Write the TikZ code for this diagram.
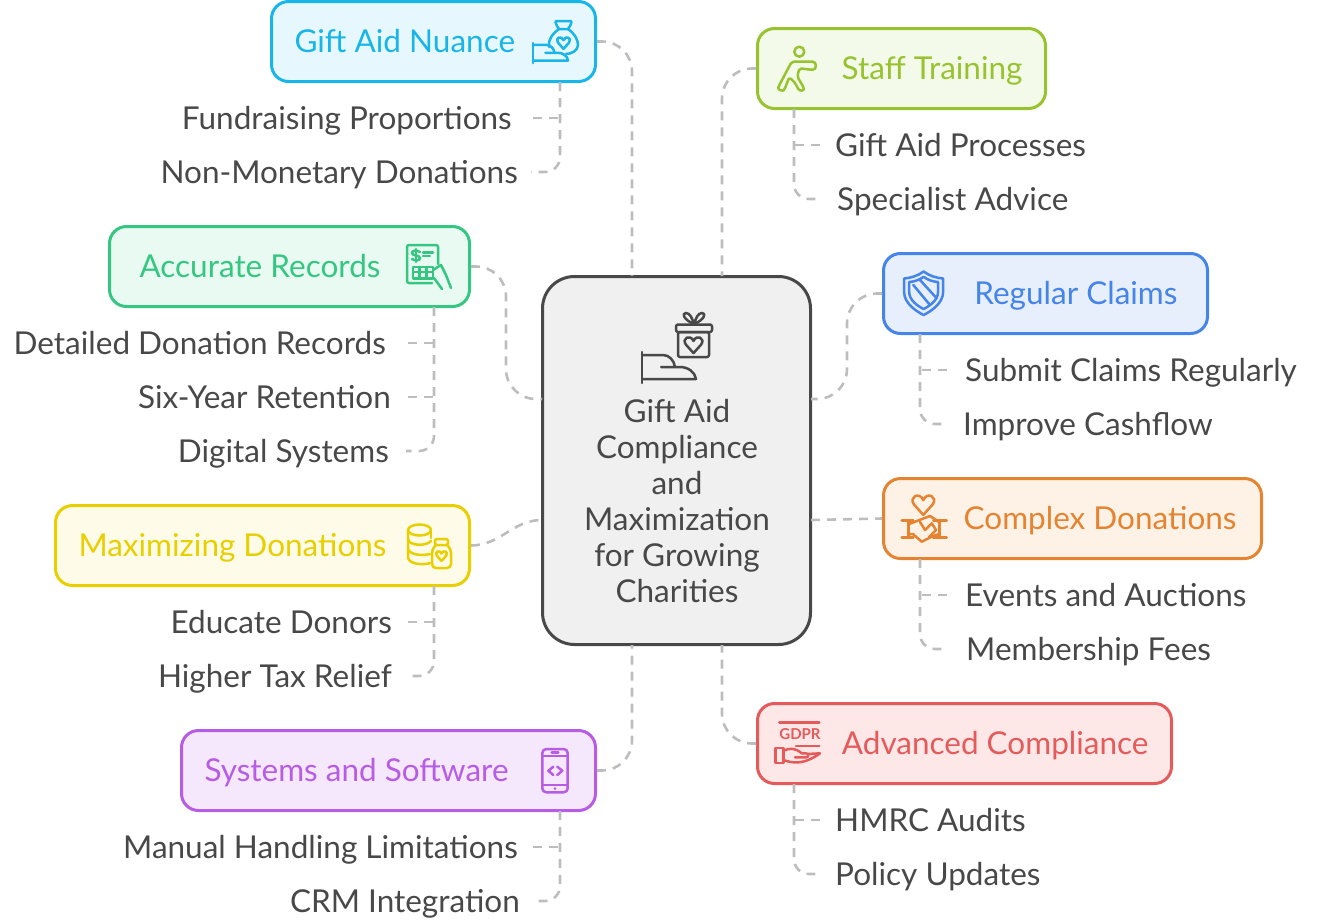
\documentclass[tikz,border=0pt]{standalone}
\usepackage{fontspec}
\setmainfont{Lato}
\usetikzlibrary{arrows.meta}
\definecolor{inkc}{HTML}{484848}
\definecolor{linkc}{HTML}{BDBDBD}
\definecolor{hubfill}{HTML}{F0F0F0}
\definecolor{giftc}{HTML}{1AB5E8}
\definecolor{giftfill}{HTML}{E6F8FE}
\definecolor{staffc}{HTML}{97C32E}
\definecolor{stafffill}{HTML}{F3FAE9}
\definecolor{recc}{HTML}{35C781}
\definecolor{recfill}{HTML}{E8FAF2}
\definecolor{claimc}{HTML}{4584E8}
\definecolor{claimfill}{HTML}{E7EFFD}
\definecolor{maxc}{HTML}{E8CF00}
\definecolor{maxfill}{HTML}{FEFBE8}
\definecolor{donc}{HTML}{E58330}
\definecolor{donfill}{HTML}{FEF2E7}
\definecolor{sysc}{HTML}{B65CE5}
\definecolor{sysfill}{HTML}{F6E8FC}
\definecolor{compc}{HTML}{E55A5A}
\definecolor{compfill}{HTML}{FEE7E7}
\tikzset{
  base/.style = {
    rectangle, font=\fontsize{31.5}{36}\selectfont, text height=22pt, text depth=0pt
  },
  topic/.style = {
    base, rounded corners=17pt, line width=3pt, minimum height=80pt,
    inner xsep=23pt, inner ysep=0pt
  },
  topicl/.style = {topic, align=flush left},
  topicr/.style = {topic, align=flush right},
  item/.style = {base, text=inkc, inner xsep=15pt, inner ysep=0pt},
  link/.style = {draw=linkc, line width=2.6pt, dash pattern=on 9pt off 7pt},
  icon/.style = {line width=2.5pt, line cap=round, line join=round},
  pics/palm/.style = {code={
    \draw (0,0) -- (0,31);
    \draw (0,3) -- (21,3) .. controls (27,3) and (32,8) .. (33,15);
    \draw (19,15) -- (38,15) .. controls (46,15) and (53,20) .. (54,27) -- (0,27);
  }},
  pics/heart/.style = {code={
    \draw (0,.9) -- (-.85,-.05) .. controls (-1.35,-.75) and (-.35,-1.25) .. (0,-.45)
      .. controls (.35,-1.25) and (1.35,-.75) .. (.85,-.05) -- cycle;
  }},
  pics/shieldline/.style = {code={
    \draw (0,-20.5) .. controls (-6,-16) and (-13,-14) .. (-19.5,-13.5) -- (-19.5,0)
      .. controls (-19.5,11) and (-8,19) .. (0,23) .. controls (8,19) and (19.5,11) .. (19.5,0)
      -- (19.5,-13.5) .. controls (13,-14) and (6,-16) .. cycle;
  }},
}
\begin{document}
\begin{tikzpicture}[x=1pt, y=-1pt]
  \useasboundingbox (0,0) rectangle (1317,921);
  % hub
  \node (hub) [rectangle, rounded corners=32pt, draw=inkc, fill=hubfill, line width=3pt,
    minimum width=268pt, minimum height=368pt] at (676.5,460.5) {};
  \node (hub_t) [font=\fontsize{31.5}{36}\selectfont, text=inkc, align=center, inner sep=0pt] at (677,501)
    {Gift Aid\\Compliance\\and\\Maximization\\for Growing\\Charities};
  \coordinate (hub_tl) at (632,276);
  \coordinate (hub_tr) at (722,276);
  \coordinate (hub_bl) at (632,645);
  \coordinate (hub_br) at (722,645);
  \coordinate (hub_la) at (542,399);
  \coordinate (hub_lb) at (542,520);
  \coordinate (hub_ra) at (811,399);
  \coordinate (hub_rb) at (811,520);
  % topics
  \node (gift) [topicl, draw=giftc, fill=giftfill, text=giftc, text width=278pt] at (433.5,41.5) {Gift Aid Nuance};
  \node (staff) [topicr, draw=staffc, fill=stafffill, text=staffc, text width=242pt] at (901.5,68.5) {Staff Training};
  \node (rec) [topicl, inner xsep=30pt, draw=recc, fill=recfill, text=recc, text width=300pt] at (289.5,266.5) {Accurate Records};
  \node (claim) [topicr, inner xsep=30pt, draw=claimc, fill=claimfill, text=claimc, text width=264pt] at (1045.5,293.5) {Regular Claims};
  \node (max) [topicl, draw=maxc, fill=maxfill, text=maxc, text width=368pt] at (262.5,545.5) {Maximizing Donations};
  \node (don) [topicr, inner xsep=25pt, draw=donc, fill=donfill, text=donc, text width=328pt] at (1072.5,518.5) {Complex Donations};
  \node (sys) [topicl, draw=sysc, fill=sysfill, text=sysc, text width=368pt] at (388.5,770.5) {Systems and Software};
  \node (comp) [topicr, draw=compc, fill=compfill, text=compc, text width=368pt] at (964.5,743.5) {Advanced Compliance};
  % items
  \node (gift_a) [item, inner xsep=21pt, anchor=east] at (533,118) {Fundraising Proportions};
  \node (gift_b) [item, inner xsep=13pt, anchor=east] at (531,172) {Non-Monetary Donations};
  \node (rec_a) [item, inner xsep=22pt, anchor=east] at (408,343) {Detailed Donation Records};
  \node (rec_b) [item, inner xsep=17pt, anchor=east] at (408,397) {Six-Year Retention};
  \node (rec_c) [item, inner xsep=17pt, anchor=east] at (406,451) {Digital Systems};
  \node (max_a) [item, inner xsep=16pt, anchor=east] at (408,622) {Educate Donors};
  \node (max_b) [item, inner xsep=14pt, anchor=east] at (406,676) {Higher Tax Relief};
  \node (sys_a) [item, anchor=east] at (533,847) {Manual Handling Limitations};
  \node (sys_b) [item, inner xsep=13pt, anchor=east] at (533,901) {CRM Integration};
  \node (staff_a) [item, anchor=west] at (820,145) {Gift Aid Processes};
  \node (staff_b) [item, anchor=west] at (822,199) {Specialist Advice};
  \node (claim_a) [item, inner xsep=18pt, anchor=west] at (947,370) {Submit Claims Regularly};
  \node (claim_b) [item, anchor=west] at (948,424) {Improve Cashflow};
  \node (don_a) [item, inner xsep=18pt, anchor=west] at (947,595) {Events and Auctions};
  \node (don_b) [item, inner xsep=18pt, anchor=west] at (948,649) {Membership Fees};
  \node (comp_a) [item, anchor=west] at (820,820) {HMRC Audits};
  \node (comp_b) [item, anchor=west] at (820,874) {Policy Updates};
  \coordinate (gift_s) at (560,82);
  \coordinate (rec_s) at (434,307);
  \coordinate (max_s) at (434,586);
  \coordinate (sys_s) at (560,811);
  \coordinate (staff_s) at (794,109);
  \coordinate (claim_s) at (920,334);
  \coordinate (don_s) at (920,559);
  \coordinate (comp_s) at (794,784);
  % links from the hub
  \draw[link, rounded corners=30pt] (gift.east) -| (hub_tl);
  \draw[link, rounded corners=30pt] (staff.west) -| (hub_tr);
  \draw[link, rounded corners=30pt] (rec.east) -- ++(35,0) |- (hub_la);
  \draw[link, rounded corners=30pt] (claim.west) -- ++(-35,0) |- (hub_ra);
  \draw[link] (max.east) to[out=0, in=180] (hub_lb);
  \draw[link] (hub_rb) -- (don.west);
  \draw[link, rounded corners=30pt] (sys.east) -| (hub_bl);
  \draw[link, rounded corners=30pt] (comp.west) -| (hub_br);
  % links to the items
  \draw[link, rounded corners=15pt] (gift_s) |- (gift_b.east);
  \draw[link] (gift_a.east) -- (gift_a.east -| gift_s);
  \draw[link, rounded corners=15pt] (rec_s) |- (rec_c.east);
  \draw[link] (rec_a.east) -- (rec_a.east -| rec_s);
  \draw[link] (rec_b.east) -- (rec_b.east -| rec_s);
  \draw[link, rounded corners=15pt] (max_s) |- (max_b.east);
  \draw[link] (max_a.east) -- (max_a.east -| max_s);
  \draw[link, rounded corners=15pt] (sys_s) |- (sys_b.east);
  \draw[link] (sys_a.east) -- (sys_a.east -| sys_s);
  \draw[link, rounded corners=15pt] (staff_s) |- (staff_b.west);
  \draw[link] (staff_a.west) -- (staff_a.west -| staff_s);
  \draw[link, rounded corners=15pt] (claim_s) |- (claim_b.west);
  \draw[link] (claim_a.west) -- (claim_a.west -| claim_s);
  \draw[link, rounded corners=15pt] (don_s) |- (don_b.west);
  \draw[link] (don_a.west) -- (don_a.west -| don_s);
  \draw[link, rounded corners=15pt] (comp_s) |- (comp_b.west);
  \draw[link] (comp_a.west) -- (comp_a.west -| comp_s);
  % hub icon
  \begin{scope}[icon, color=inkc]
    \pic at (642,352) {palm};
    \draw[rounded corners=2pt] (678,332) rectangle (709,357);
    \draw[rounded corners=2pt] (676,324.5) rectangle (712,332);
    \draw (694,324) .. controls (684,320) and (681,313) .. (686,313) .. controls (690,313) and (692,318) .. (694,324)
      .. controls (696,318) and (698,313) .. (702,313) .. controls (707,313) and (704,320) .. (694,324);
    \pic[scale=9] at (693.5,345) {heart};
  \end{scope}
  % gift icon
  \begin{scope}[icon, color=giftc]
    \pic[scale=.65] at (533,43) {palm};
    \draw (559,29) .. controls (556,25) and (555,22) .. (556,21) -- (571,21) .. controls (572,22) and (571,25) .. (568,29) -- cycle;
    \draw (559,29) .. controls (552,34) and (548,40) .. (549,47);
    \draw (568,29) .. controls (575,34) and (578,40) .. (578,45) .. controls (578,50) and (572,54) .. (566,54);
    \pic[scale=6.5] at (563.5,43) {heart};
  \end{scope}
  % staff icon
  \begin{scope}[icon, color=staffc]
    \draw (799.3,51.7) circle (5pt);
    \draw[rounded corners=2pt] (791.7,61.7) -- (810.7,61.7) .. controls (817,61.7) and (817,69.7) .. (810.7,69.7)
      -- (799.3,68.3) -- (797.3,76.7) -- (803.3,86.7) .. controls (804.5,91) and (799,91.5) .. (797.3,86.7)
      -- (792.7,80) -- (789,77.7) -- (785,88.3) .. controls (783,91.5) and (777.5,90) .. (779,85.7) -- cycle;
  \end{scope}
  % records icon
  \begin{scope}[icon, color=recc]
    \draw[rounded corners=2pt] (438,264) |- (407,245) |- (432,283);
    \draw (423,252.5) -- (433,252.5) (423,256) -- (430,256);
    \draw (420,252) .. controls (417,250) and (412,250) .. (412,253) .. controls (412,256) and (420,255) .. (420,258)
      .. controls (420,261) and (415,261) .. (412,259);
    \draw (416,249) -- (416,262);
    \draw (413,267) rectangle (433,278.5);
    \draw (413,272) -- (433,272) (419.5,267) -- (419.5,278.5) (426.5,267) -- (426.5,278.5);
    \draw (433,270) -- (441,265) -- (446,275) -- (451,288);
    \draw (434,278) -- (442,289);
  \end{scope}
  % claims icon
  \begin{scope}[icon, color=claimc]
    \pic at (923.6,292) {shieldline};
    \pic[scale=.74] at (923.6,292) {shieldline};
    \draw (913.3,285) -- (930,305);
    \draw (920,280) -- (936.7,298.3);
  \end{scope}
  % coins icon
  \begin{scope}[icon, color=maxc]
    \draw (419.5,530) ellipse (11.5pt and 5.5pt);
    \draw (408,530) -- (408,558) .. controls (410,565) and (425,565) .. (430,563);
    \draw (431,530) -- (431,538);
    \draw (408,539.5) .. controls (410,546) and (426,546.5) .. (431,541);
    \draw (408,549) .. controls (410,555) and (422,556) .. (430,554);
    \draw[rounded corners=2pt] (435,539) rectangle (448,545);
    \draw[rounded corners=4pt] (436,545) -- (432,549) -- (432,568) -- (451,568) -- (451,549) -- (447,545);
    \pic[scale=5.5] at (441.5,556) {heart};
  \end{scope}
  % donations icon
  \begin{scope}[icon, color=donc]
    \pic[scale=11] at (923.3,505) {heart};
    \draw (901.7,520.7) -- (913.3,520.7) (901.7,537.3) -- (913.3,537.3) (908.3,520.7) -- (908.3,537.3);
    \draw (933.3,520.7) -- (946.7,520.7) (933.3,537.3) -- (946.7,537.3) (939.3,520.7) -- (939.3,537.3);
    \draw (909,524) -- (930,516) -- (939,522);
    \draw (909,534) -- (913,534) -- (921.7,541.7) -- (933,536) -- (939,534);
    \draw (920,522) -- (925,530) -- (931.7,523.3) -- (936,530) -- (929,537);
  \end{scope}
  % systems icon
  \begin{scope}[icon, color=sysc]
    \draw[rounded corners=4pt] (542.3,749) rectangle (567.7,792.3);
    \draw (542.3,756) -- (567.7,756) (542.3,785) -- (567.7,785);
    \draw (551.7,752.5) -- (558.3,752.5);
    \fill (555,788.5) circle (1.5pt);
    \draw (553.3,766.7) -- (548.3,770.7) -- (553.3,775);
    \draw (557.3,766.7) -- (562.3,770.7) -- (557.3,775);
  \end{scope}
  % compliance icon
  \begin{scope}[icon, color=compc]
    \draw (779.3,722.7) -- (819.3,722.7);
    \node (comp_i) [font=\bfseries\fontsize{15}{15}\selectfont, text=compc, inner sep=0pt] at (800,734) {GDPR};
    \draw (796,746) -- (819.3,746);
    \draw (775.7,748) rectangle (783.3,763);
    \draw (783.3,750.7) .. controls (790,748) and (795,747.5) .. (801.7,753.3) -- (806,753.3) .. controls (809,753.3) and (809,757.3) .. (806,757.3) -- (795,757.3);
    \draw (783.3,760) .. controls (795,764) and (805,764) .. (820,753.3) -- (808,754);
  \end{scope}
\end{tikzpicture}
\end{document}
